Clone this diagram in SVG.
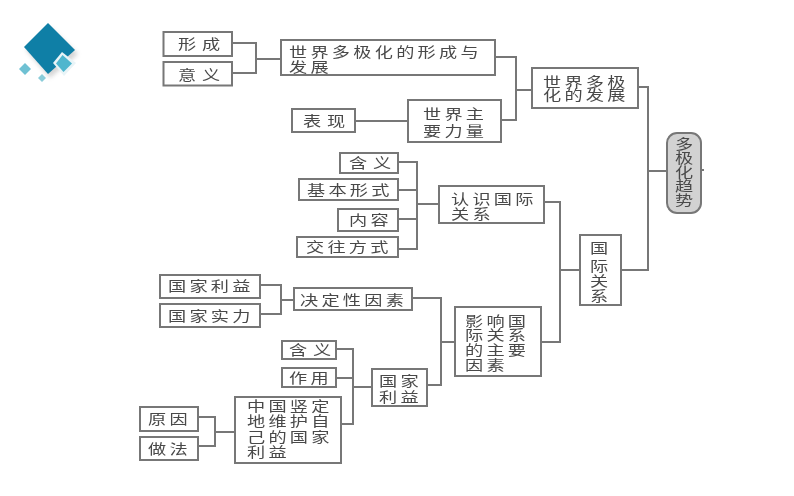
<svg xmlns="http://www.w3.org/2000/svg" width="794" height="496" viewBox="0 0 794 496">
<defs>
<filter id="soft" x="-5%" y="-5%" width="110%" height="110%"><feGaussianBlur stdDeviation="0.45"/></filter>
<filter id="shade" x="-30%" y="-30%" width="160%" height="160%"><feGaussianBlur stdDeviation="2"/></filter>
</defs>
<style>
.b{fill:#fff;stroke:#777;stroke-width:2}
.r{fill:#d2d2d2;stroke:#777;stroke-width:2}
.c{fill:none;stroke:#777;stroke-width:2}
text{font-family:"Noto Sans CJK SC","Noto Sans",sans-serif;font-size:14px;fill:#4a4a4a;letter-spacing:2.5px}
.w{letter-spacing:4.5px}
</style>
<rect width="794" height="496" fill="#fff"/>
<g id="icon">
<path d="M50 27L78 54L50 78L26 50Z" fill="#999" opacity=".4" filter="url(#shade)"/>
<polygon points="48,23 75,50 48,74 24,47" fill="#0f7fa6"/>
<polygon points="62,52 76,63 64,76 53,63" fill="#e9f4f7"/>
<polygon points="62.500,55 72,63.500 63.500,72 56,63.500" fill="#4fb6ce"/>
<polygon points="25,63 31,69 25,75 19,69" fill="#6fc1d3"/>
<polygon points="42,74 46,78 42,82 38,78" fill="#8accd9"/>
</g>
<g filter="url(#soft)">
<g id="connectors">
<path class="c" d="M232 43H256V73H232M256 59H281"/>
<path class="c" d="M495 57H516V120H501M516 90H532"/>
<path class="c" d="M355 121H408"/>
<path class="c" d="M638 87H648V270H621M648 171H667M701 170H704"/>
<path class="c" d="M398 162H417V249H398M398 190H417M398 219H417M417 204H439"/>
<path class="c" d="M544 202H560V342H541M560 270H580"/>
<path class="c" d="M260 285H281V314H260M281 300H294"/>
<path class="c" d="M412 298H441V385H427M441 342H455"/>
<path class="c" d="M336 349H353V424H341M336 378H353M353 387H372"/>
<path class="c" d="M198 417H215V446H198M215 432H235"/>
</g>
<g id="n1"><rect class="b" x="163.500" y="32" width="68.500" height="24"/><text class="w" transform="translate(178,49) scale(1.3,1)">形成</text></g>
<g id="n2"><rect class="b" x="163.500" y="62" width="68.500" height="23.500"/><text class="w" transform="translate(178,80) scale(1.3,1)">意义</text></g>
<g id="n3"><rect class="b" x="281" y="40" width="214" height="35"/><text transform="translate(289,57) scale(1.3,1)">世界多极化的形成与</text><text transform="translate(289,72) scale(1.3,1)">发展</text></g>
<g id="n4"><rect class="b" x="292" y="109" width="63" height="23"/><text class="w" transform="translate(303,126) scale(1.3,1)">表现</text></g>
<g id="n5"><rect class="b" x="408" y="100" width="93" height="42"/><text transform="translate(423,119) scale(1.3,1)">世界主</text><text transform="translate(423,136) scale(1.3,1)">要力量</text></g>
<g id="n6"><rect class="b" x="532" y="68" width="106" height="40"/><text transform="translate(543,87) scale(1.3,1)">世界多极</text><text transform="translate(543,100) scale(1.3,1)">化的发展</text></g>
<g id="n7"><rect class="r" x="667" y="133" width="34" height="80" rx="10"/><text transform="translate(675,149) scale(1.3,1)">多</text><text transform="translate(675,163) scale(1.3,1)">极</text><text transform="translate(675,177) scale(1.3,1)">化</text><text transform="translate(675,191) scale(1.3,1)">趋</text><text transform="translate(675,205) scale(1.3,1)">势</text></g>
<g id="n8"><rect class="b" x="580" y="235" width="41" height="70"/><text transform="translate(590,253) scale(1.3,1)">国</text><text transform="translate(590,271) scale(1.3,1)">际</text><text transform="translate(590,286) scale(1.3,1)">关</text><text transform="translate(590,301) scale(1.3,1)">系</text></g>
<g id="n9"><rect class="b" x="439" y="186" width="105" height="37"/><text transform="translate(451,204) scale(1.3,1)">认识国际</text><text transform="translate(451,219) scale(1.3,1)">关系</text></g>
<g id="n10"><rect class="b" x="340" y="153" width="58" height="20"/><text class="w" transform="translate(349,168) scale(1.3,1)">含义</text></g>
<g id="n11"><rect class="b" x="299" y="179" width="99" height="21"/><text transform="translate(307,195) scale(1.3,1)">基本形式</text></g>
<g id="n12"><rect class="b" x="338" y="209" width="60" height="22"/><text transform="translate(349,225) scale(1.3,1)">内容</text></g>
<g id="n13"><rect class="b" x="297" y="237" width="101" height="20"/><text transform="translate(306,252) scale(1.3,1)">交往方式</text></g>
<g id="n14"><rect class="b" x="160" y="275" width="100" height="23"/><text transform="translate(168,291) scale(1.3,1)">国家利益</text></g>
<g id="n15"><rect class="b" x="160" y="304" width="100" height="23"/><text transform="translate(168,321) scale(1.3,1)">国家实力</text></g>
<g id="n16"><rect class="b" x="294" y="288" width="118" height="22"/><text transform="translate(300,305) scale(1.3,1)">决定性因素</text></g>
<g id="n17"><rect class="b" x="455" y="307" width="86" height="69"/><text transform="translate(465,326) scale(1.3,1)">影响国</text><text transform="translate(465,340) scale(1.3,1)">际关系</text><text transform="translate(465,355) scale(1.3,1)">的主要</text><text transform="translate(465,370) scale(1.3,1)">因素</text></g>
<g id="n18"><rect class="b" x="282" y="341" width="54" height="18"/><text class="w" transform="translate(289,355) scale(1.3,1)">含义</text></g>
<g id="n19"><rect class="b" x="282" y="368" width="54" height="19"/><text transform="translate(289,383) scale(1.3,1)">作用</text></g>
<g id="n20"><rect class="b" x="372" y="369" width="55" height="37"/><text transform="translate(379,386) scale(1.3,1)">国家</text><text transform="translate(379,402) scale(1.3,1)">利益</text></g>
<g id="n21"><rect class="b" x="235" y="397" width="106" height="66"/><text transform="translate(247,411) scale(1.3,1)">中国竖定</text><text transform="translate(247,426) scale(1.3,1)">地维护自</text><text transform="translate(247,442) scale(1.3,1)">己的国家</text><text transform="translate(247,457) scale(1.3,1)">利益</text></g>
<g id="n22"><rect class="b" x="140" y="407" width="58" height="24"/><text transform="translate(148,424) scale(1.3,1)">原因</text></g>
<g id="n23"><rect class="b" x="140" y="437" width="58" height="23"/><text transform="translate(148,454) scale(1.3,1)">做法</text></g>
</g>
</svg>
